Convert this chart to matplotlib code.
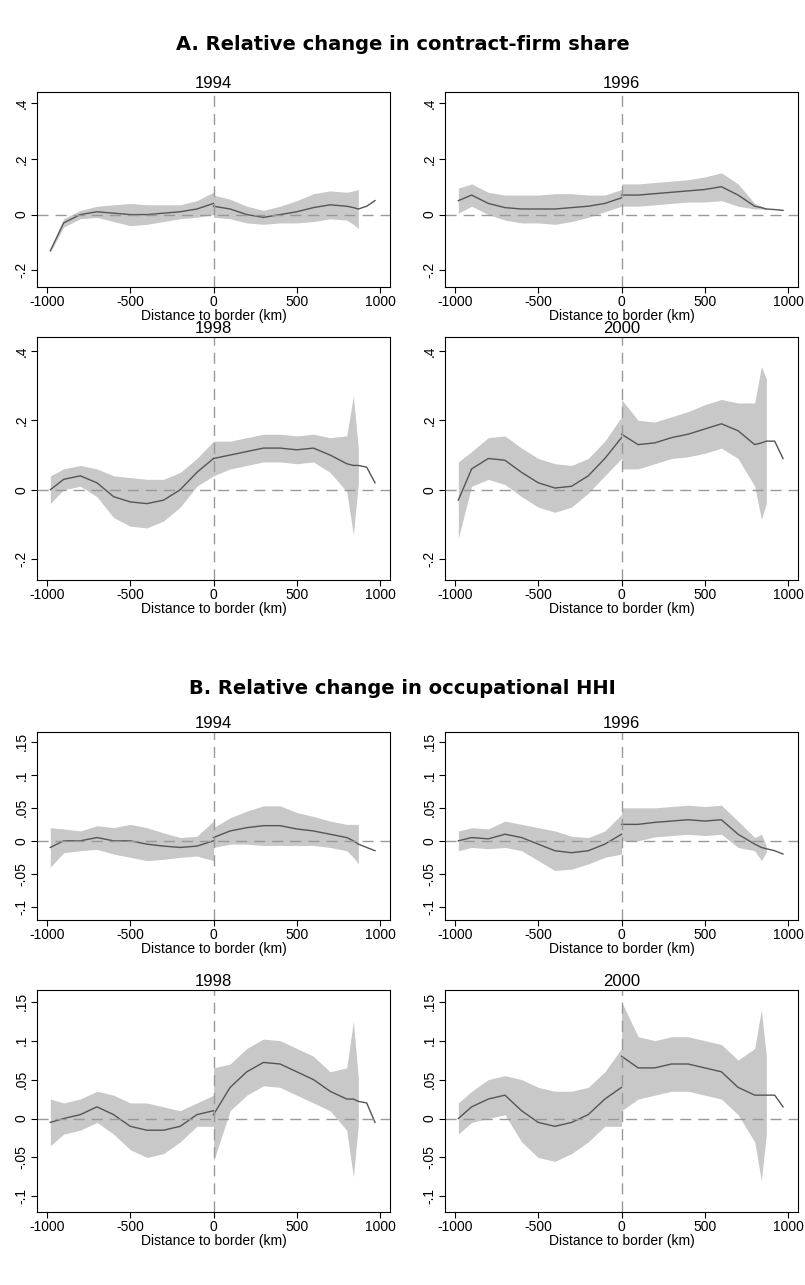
import numpy as np
import matplotlib
matplotlib.use("Agg")
import matplotlib.pyplot as plt

nan = np.nan
xl = [-980, -900, -800, -700, -600, -500, -400, -300, -200, -100, 0]
xr = [0, 100, 200, 300, 400, 500, 600, 700, 800, 840, 870, 920, 970]
years = ["1994", "1996", "1998", "2000"]

# Panel A: contract-firm share (mean, half-width of band)
A_left_mean = [
    [-0.13, -0.03, 0.0, 0.01, 0.005, 0.0, 0.0, 0.005, 0.01, 0.02, 0.04],
    [0.05, 0.07, 0.04, 0.025, 0.02, 0.02, 0.02, 0.025, 0.03, 0.04, 0.06],
    [0.0, 0.03, 0.04, 0.02, -0.02, -0.035, -0.04, -0.03, 0.0, 0.05, 0.09],
    [-0.03, 0.06, 0.09, 0.085, 0.05, 0.02, 0.005, 0.01, 0.04, 0.09, 0.15],
]
A_left_hw = [
    [0.005, 0.015, 0.015, 0.02, 0.03, 0.04, 0.035, 0.03, 0.025, 0.03, 0.04],
    [0.045, 0.04, 0.04, 0.045, 0.05, 0.05, 0.055, 0.05, 0.04, 0.03, 0.03],
    [0.04, 0.03, 0.03, 0.04, 0.06, 0.07, 0.07, 0.06, 0.05, 0.04, 0.05],
    [0.11, 0.05, 0.06, 0.07, 0.07, 0.07, 0.07, 0.06, 0.05, 0.05, 0.06],
]
A_right_mean = [
    [0.03, 0.02, 0.0, -0.01, 0.0, 0.01, 0.025, 0.035, 0.03, 0.025, 0.02, 0.03, 0.05],
    [0.07, 0.07, 0.075, 0.08, 0.085, 0.09, 0.1, 0.07, 0.03, 0.025, 0.02, 0.018, 0.015],
    [0.09, 0.1, 0.11, 0.12, 0.12, 0.115, 0.12, 0.1, 0.075, 0.07, 0.07, 0.065, 0.02],
    [0.16, 0.13, 0.135, 0.15, 0.16, 0.175, 0.19, 0.17, 0.13, 0.135, 0.14, 0.14, 0.09],
]
A_right_hw = [
    [0.04, 0.035, 0.03, 0.025, 0.03, 0.04, 0.05, 0.05, 0.05, 0.06, 0.07, nan, nan],
    [0.04, 0.04, 0.04, 0.04, 0.04, 0.045, 0.05, 0.04, 0.01, 0.005, 0.003, nan, nan],
    [0.05, 0.04, 0.04, 0.04, 0.04, 0.04, 0.04, 0.05, 0.08, 0.2, 0.05, nan, nan],
    [0.1, 0.07, 0.06, 0.06, 0.065, 0.07, 0.07, 0.08, 0.12, 0.22, 0.18, nan, nan],
]

# Panel B: occupational HHI
B_left_mean = [
    [-0.01, 0.0, 0.0, 0.005, 0.0, 0.0, -0.005, -0.008, -0.01, -0.008, 0.0],
    [0.0, 0.005, 0.003, 0.01, 0.005, -0.005, -0.015, -0.018, -0.015, -0.005, 0.01],
    [-0.005, 0.0, 0.005, 0.015, 0.005, -0.01, -0.015, -0.015, -0.01, 0.005, 0.01],
    [0.0, 0.015, 0.025, 0.03, 0.01, -0.005, -0.01, -0.005, 0.005, 0.025, 0.04],
]
B_left_hw = [
    [0.03, 0.018, 0.015, 0.018, 0.02, 0.025, 0.025, 0.02, 0.015, 0.015, 0.03],
    [0.015, 0.015, 0.015, 0.02, 0.02, 0.025, 0.03, 0.025, 0.02, 0.02, 0.03],
    [0.03, 0.02, 0.02, 0.02, 0.025, 0.03, 0.035, 0.03, 0.02, 0.015, 0.02],
    [0.02, 0.02, 0.025, 0.025, 0.04, 0.045, 0.045, 0.04, 0.035, 0.035, 0.05],
]
B_right_mean = [
    [0.005, 0.015, 0.02, 0.023, 0.023, 0.018, 0.015, 0.01, 0.005, 0.0, -0.005, -0.01, -0.015],
    [0.025, 0.025, 0.028, 0.03, 0.032, 0.03, 0.032, 0.01, -0.005, -0.01, -0.012, -0.015, -0.02],
    [0.005, 0.04, 0.06, 0.072, 0.07, 0.06, 0.05, 0.035, 0.025, 0.025, 0.022, 0.02, -0.005],
    [0.08, 0.065, 0.065, 0.07, 0.07, 0.065, 0.06, 0.04, 0.03, 0.03, 0.03, 0.03, 0.015],
]
B_right_hw = [
    [0.015, 0.02, 0.025, 0.03, 0.03, 0.025, 0.022, 0.02, 0.02, 0.025, 0.03, nan, nan],
    [0.025, 0.025, 0.022, 0.022, 0.022, 0.022, 0.022, 0.02, 0.01, 0.02, 0.005, nan, nan],
    [0.06, 0.03, 0.03, 0.03, 0.03, 0.03, 0.03, 0.025, 0.04, 0.1, 0.03, nan, nan],
    [0.07, 0.04, 0.035, 0.035, 0.035, 0.035, 0.035, 0.035, 0.06, 0.11, 0.05, nan, nan],
]

A_yticks = [-0.2, 0, 0.2, 0.4]
A_ylabels = ["-.2", "0", ".2", ".4"]
B_yticks = [-0.1, -0.05, 0, 0.05, 0.1, 0.15]
B_ylabels = ["-.1", "-.05", "0", ".05", ".1", ".15"]
xticks = [-1000, -500, 0, 500, 1000]

W, H = 805, 1285
fig = plt.figure(figsize=(W / 100, H / 100), dpi=100)
plt.rcParams['font.family'] = ['Liberation Sans', 'DejaVu Sans']

fig.text(0.5, 1 - 45 / H, "A. Relative change in contract-firm share", ha="center",
         va="center", fontsize=14, fontweight="bold", family="DejaVu Sans")
fig.text(0.5, 1 - 688 / H, "B. Relative change in occupational HHI", ha="center",
         va="center", fontsize=14, fontweight="bold", family="DejaVu Sans")

lefts = [37, 445]
width = 353
rows_A = [(92, 287), (337, 580)]
rows_B = [(732, 920), (990, 1212)]

def panel(left, tb, lm, lh, rm, rh, yticks, ylabels, ylim, title):
    top, bot = tb
    ax = fig.add_axes([left / W, 1 - bot / H, width / W, (bot - top) / H])
    for xs, m, h in [(xl, lm, lh), (xr, rm, rh)]:
        m = np.array(m); h = np.array(h)
        ax.fill_between(xs, m - h, m + h, color="#c8c8c8", lw=0)
        ax.plot(xs, m, color="#555555", lw=1)
    ax.axhline(0, color="#999999", ls=(0, (8, 5)), lw=1)
    ax.axvline(0, color="#999999", ls=(0, (8, 5)), lw=1)
    ax.set_xlim(-1060, 1060)
    ax.set_ylim(*ylim)
    ax.set_xticks(xticks)
    ax.set_xticklabels([str(t) for t in xticks], fontsize=10)
    ax.set_yticks(yticks)
    ax.set_yticklabels(ylabels, fontsize=10, rotation=90, va="center")
    ax.set_xlabel("Distance to border (km)", fontsize=10, labelpad=0)
    ax.set_title(title, fontsize=12, pad=3)
    ax.tick_params(length=4, width=0.8, pad=2)

k = 0
for r in range(2):
    for c in range(2):
        panel(lefts[c], rows_A[r], A_left_mean[k], A_left_hw[k], A_right_mean[k], A_right_hw[k],
              A_yticks, A_ylabels, (-0.26, 0.44), years[k])
        panel(lefts[c], rows_B[r], B_left_mean[k], B_left_hw[k], B_right_mean[k], B_right_hw[k],
              B_yticks, B_ylabels, (-0.12, 0.165), years[k])
        k += 1

fig.savefig("out.png", dpi=100)
